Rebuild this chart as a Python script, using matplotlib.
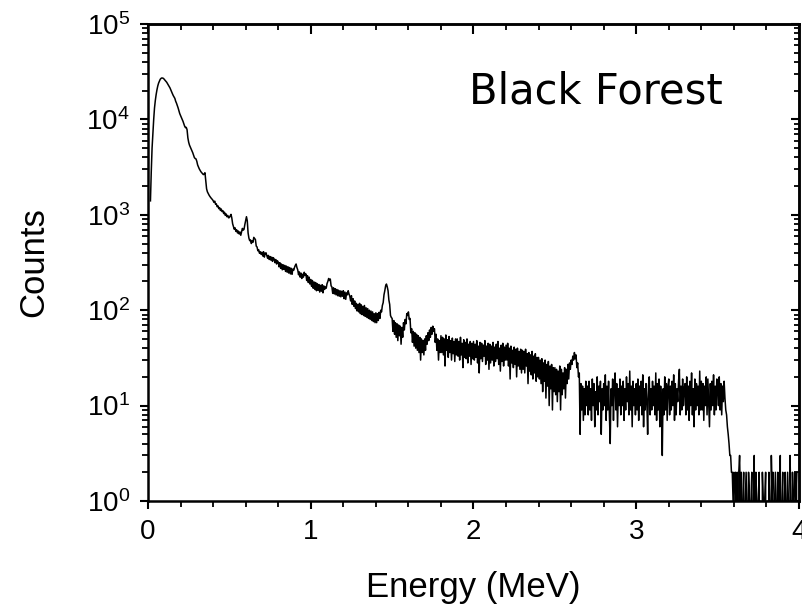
import numpy as np
import matplotlib
matplotlib.use("Agg")
import matplotlib.pyplot as plt
from matplotlib.ticker import MultipleLocator, LogLocator, NullFormatter

# ---- data: gamma spectrum, 5 keV channels starting at 0.015 MeV ----
E0 = 0.015
dE = 0.005

counts_000 = "1400 2820 5000 7240 10000 13200 15800 18200 20400 22400 24000 25100 26300 26900 27200 27100 26900"
counts_010 = "26300 25700 25100 24500 23700 22900 22100 21400 20400 19500 18600 17800 17200 16600 15500 14800 14000 13200 12300 11500"
counts_020 = "11000 10500 10000 9550 9000 8500 8200 8250 7800 6400 5750 5370 5130 4900 4680 4470 4220 3980 3890 3850"
counts_030 = "3630 3330 3180 3030 2920 2830 2760 2700 2640 2660 2760 2300 1870 1740 1670 1610 1560 1520 1480 1450"
counts_040 = "1410 1350 1390 1290 1300 1215 1240 1160 1190 1110 1150 1080 1105 1030 1065 985 1020 955 985 930"
counts_050 = "935 975 1010 925 805 755 705 730 670 695 645 675 630 660 610 665 720 690 705 790"
counts_060 = "870 955 865 645 570 535 545 500 535 515 580 565 550 470 460 420 430 395 410 385"
counts_070 = "405 370 410 360 395 400 375 350 375 340 365 335 360 325 355 345 315 340 305 330"
counts_080 = "320 285 315 275 305 265 300 268 295 255 290 250 285 245 280 240 275 238 270 262"
counts_090 = "280 295 305 280 265 235 252 222 245 215 238 222 250 232 240 205 230 195 222 188"
counts_100 = "210 178 205 170 198 165 195 160 190 162 186 155 182 158 185 152 180 165 175 170"
counts_110 = "190 200 215 205 212 180 175 150 172 148 168 145 165 142 162 140 160 138 158 140"
counts_120 = "160 132 155 130 152 145 160 148 140 125 142 115 132 110 125 104 118 98 115 96"
counts_130 = "118 92 114 90 110 88 112 86 106 84 104 82 100 80 98 78 96 76 92 74"
counts_140 = "94 74 92 78 95 82 100 96 112 120 145 160 180 188 176 160 128 115 88 84"
counts_150 = "82 60 78 56 74 52 72 48 70 54 68 44 66 52 74 62 80 72 92 88"
counts_160 = "96 80 82 58 64 46 60 42 58 40 56 38 54 36 52 30 50 36 48 34"
counts_170 = "50 38 54 44 58 48 62 52 66 56 68 60 64 46 56 38 50 30 48 36"
counts_180 = "54 36 52 34 50 26 55 38 49 32 53 36 48 30 51 35 47 29 50 34"
counts_190 = "50 33 47 30 52 34 45 25 49 32 46 31 50 28 44 33 47 27 45 31"
counts_200 = "47 30 44 32 48 28 42 22 46 31 45 29 43 33 48 27 42 30 45 24"
counts_210 = "44 28 42 30 46 26 41 29 44 31 47 27 40 23 43 29 45 26 41 30"
counts_220 = "43 30 45 26 40 19 42 28 38 25 41 27 39 20 40 26 37 24 39 22"
counts_230 = "38 24 37 22 39 26 35 17 36 23 34 21 37 19 33 22 35 18 32 20"
counts_240 = "32 19 30 17 31 14 28 18 30 12 27 16 29 10 26 15 27 9 25 14"
counts_250 = "25 13 24 11 23 14 26 9 24 13 22 15 25 12 24 17 27 19 28 24"
counts_260 = "30 27 33 30 36 31 34 25 28 20 22 5 17 9 16 7 15 8 18 10"
counts_270 = "16 8 18 9 15 7 19 10 17 6 14 9 20 8 16 11 18 5 15 9"
counts_280 = "17 10 21 7 16 9 18 8 4 15 10 19 7 16 22 9 17 6 15 10"
counts_290 = "19 8 16 10 18 7 15 9 20 11 17 8 23 9 16 6 18 10 15 8"
counts_300 = "17 9 19 7 16 10 18 8 21 6 15 9 17 11 5 16 20 8 15 9"
counts_310 = "18 10 16 8 22 7 17 9 19 6 16 10 3 15 8 20 9 17 7 16"
counts_320 = "19 8 16 9 18 10 21 7 17 8 15 11 18 24 8 16 9 19 10 15"
counts_330 = "17 8 20 9 16 7 18 10 22 8 15 6 19 9 17 10 16 8 23 9"
counts_340 = "18 9 17 7 16 10 20 8 19 11 6 17 9 18 10 21 8 16 9 19"
counts_350 = "15 10 20 9 17 8 16 11 18 12 9 8 6 5 4 3 3 2 2 1"
counts_360 = "2 0 2 1 2 0 2 3 1 2 0 1 2 0 1 2 1 0 2 1"
counts_370 = "0 1 2 0 1 3 0 2 1 0 1 2 0 1 0 2 1 0 1 2"
counts_380 = "0 1 0 2 1 0 3 1 2 0 1 2 1 0 2 0 1 3 0 1"
counts_390 = "2 0 1 2 0 1 2 1 0 3 1 0 2 1 0 2 1 2 0 1"

segments = [counts_000, counts_010, counts_020, counts_030, counts_040, counts_050,
            counts_060, counts_070, counts_080, counts_090, counts_100, counts_110,
            counts_120, counts_130, counts_140, counts_150, counts_160, counts_170,
            counts_180, counts_190, counts_200, counts_210, counts_220, counts_230,
            counts_240, counts_250, counts_260, counts_270, counts_280, counts_290,
            counts_300, counts_310, counts_320, counts_330, counts_340, counts_350,
            counts_360, counts_370, counts_380, counts_390]
counts = np.array([float(v) for s in segments for v in s.split()])
energy = E0 + dE * np.arange(len(counts))

label_text = "Black Forest"
xlabel = "Energy (MeV)"
ylabel = "Counts"

# ---- figure ----
plt.rcParams['font.family'] = ['Liberation Sans', 'DejaVu Sans']
plt.rcParams['mathtext.default'] = 'regular'

W, H = 803, 604
fig = plt.figure(figsize=(W / 100, H / 100), dpi=100)
ax = fig.add_axes([148 / W, (H - 501) / H, 651 / W, 477 / H])

ax.plot(energy, counts, color='black', lw=1.1)
ax.set_yscale('log')
ax.set_xlim(0, 4)
ax.set_ylim(1, 1e5)

ax.xaxis.set_major_locator(MultipleLocator(1))
ax.xaxis.set_minor_locator(MultipleLocator(0.2))
ax.yaxis.set_major_locator(LogLocator(base=10, numticks=10))
ax.yaxis.set_minor_locator(LogLocator(base=10, subs=np.arange(2, 10), numticks=10))
ax.yaxis.set_minor_formatter(NullFormatter())

for sp in ax.spines.values():
    sp.set_linewidth(1.8)

ax.tick_params(axis='both', which='major', direction='out', length=6, width=1.5,
               labelsize=20, pad=7)
ax.tick_params(axis='both', which='minor', direction='out', length=4, width=1.3)
ax.tick_params(top=False, right=False)

# inward ticks on top and right
secx = ax.secondary_xaxis('top')
secx.xaxis.set_major_locator(MultipleLocator(1))
secx.xaxis.set_minor_locator(MultipleLocator(0.2))
secx.tick_params(axis='x', which='major', direction='in', length=7, width=1.5, labeltop=False)
secx.tick_params(axis='x', which='minor', direction='in', length=4.5, width=1.3)
secx.spines['top'].set_linewidth(1.8)

secy = ax.secondary_yaxis('right')
secy.yaxis.set_major_locator(LogLocator(base=10, numticks=10))
secy.yaxis.set_minor_locator(LogLocator(base=10, subs=np.arange(2, 10), numticks=10))
secy.tick_params(axis='y', which='major', direction='in', length=6, width=1.5, labelright=False)
secy.tick_params(axis='y', which='minor', direction='in', length=3.5, width=1.3, labelright=False)
secy.yaxis.set_minor_formatter(NullFormatter())
secy.spines['right'].set_linewidth(1.8)

ax.set_xlabel(xlabel, fontsize=25)
ax.xaxis.set_label_coords(0.5, -0.147)
ax.set_ylabel(ylabel, fontsize=25)
ax.yaxis.set_label_coords(-0.150, 0.5)

ax.text(0.6874, 0.834, label_text, transform=ax.transAxes, ha='center', va='baseline',
        fontsize=30, family='DejaVu Sans')

fig.savefig('out.png', dpi=100)
